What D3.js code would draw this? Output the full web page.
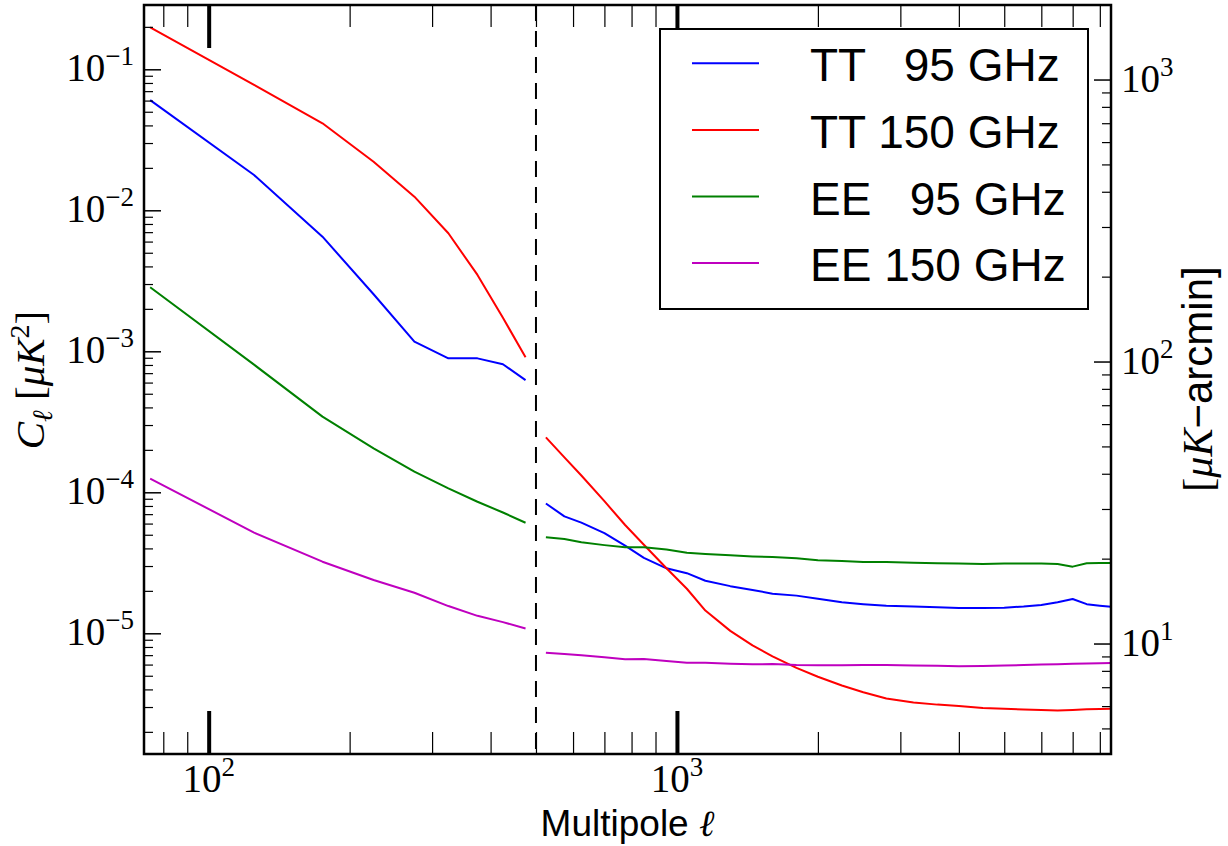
<!DOCTYPE html>
<html><head><meta charset="utf-8">
<script src="https://cdn.jsdelivr.net/npm/d3@7"></script>
<style>body{margin:0;background:#fff;} svg{display:block}</style>
</head><body>
<svg id="chart" width="1228" height="846"></svg>
<script>
// ---- data ----
const ellLow = [75,125,175,225,275,325,375,425,475];
const ellHigh = [525,575,625,700,775,850,950,1050,1150,1300,1450,1600,1800,2000,2250,2500,2800,3200,3600,4000,4500,5000,5500,6000,6500,7000,7500,8000,8500];

const tt95Low  = [0.0605,0.01778,0.0065,0.00254,0.00117,0.000891,0.000891,0.000809,0.000625];
const tt150Low = [0.1987,0.0776,0.0414,0.0221,0.01249,0.00687,0.00348,0.00173,0.000906];
const ee95Low  = [2.844e-3,8.04e-4,3.44e-4,2.05e-4,1.40e-4,1.067e-4,8.57e-5,7.19e-5,6.08e-5];
const ee150Low = [1.25e-4,5.18e-5,3.22e-5,2.39e-5,1.94e-5,1.56e-5,1.33e-5,1.20e-5,1.08e-5];

const tt95High  = [8.33e-5,6.75e-5,6.09e-5,5.14e-5,4.18e-5,3.43e-5,2.89e-5,2.67e-5,2.36e-5,2.16e-5,2.03e-5,1.91e-5,1.85e-5,1.76e-5,1.66e-5,1.61e-5,1.57e-5,1.55e-5,1.53e-5,1.51e-5,1.51e-5,1.52e-5,1.55e-5,1.59e-5,1.66e-5,1.75e-5,1.61e-5,1.57e-5,1.54e-5];
const tt150High = [2.455e-4,1.768e-4,1.315e-4,8.65e-5,5.86e-5,4.25e-5,2.89e-5,2.07e-5,1.45e-5,1.04e-5,8.20e-6,6.87e-6,5.68e-6,4.92e-6,4.26e-6,3.82e-6,3.45e-6,3.23e-6,3.12e-6,3.05e-6,2.95e-6,2.92e-6,2.88e-6,2.86e-6,2.84e-6,2.86e-6,2.89e-6,2.90e-6,2.92e-6];
const ee95High  = [4.80e-5,4.67e-5,4.42e-5,4.22e-5,4.07e-5,4.07e-5,3.93e-5,3.73e-5,3.65e-5,3.57e-5,3.51e-5,3.47e-5,3.41e-5,3.30e-5,3.26e-5,3.21e-5,3.20e-5,3.17e-5,3.14e-5,3.12e-5,3.10e-5,3.12e-5,3.13e-5,3.12e-5,3.10e-5,2.97e-5,3.14e-5,3.15e-5,3.15e-5];
const ee150High = [7.29e-6,7.13e-6,7.00e-6,6.75e-6,6.54e-6,6.56e-6,6.37e-6,6.19e-6,6.17e-6,6.09e-6,6.03e-6,6.05e-6,5.96e-6,5.94e-6,5.94e-6,5.95e-6,5.96e-6,5.92e-6,5.88e-6,5.84e-6,5.86e-6,5.91e-6,5.96e-6,6.00e-6,6.03e-6,6.07e-6,6.10e-6,6.13e-6,6.16e-6];

const seriesNames = ["TT   95 GHz","TT 150 GHz","EE   95 GHz","EE 150 GHz"];
const seriesColors = ["#0000ff","#ff0000","#008000","#bf00bf"];
const lowSets = [tt95Low, tt150Low, ee95Low, ee150Low];
const highSets = [tt95High, tt150High, ee95High, ee150High];

const xDomain = [72.76, 8452];
const yDomain = [1.393e-6, 0.2858];
const ellSplit = 500;

const xMajor = [100, 1000];
const xMinor = [80,90,200,300,400,500,600,700,800,900,2000,3000,4000,5000,6000,7000,8000];
const yMajor = [1e-5,1e-4,1e-3,1e-2,1e-1];
const yMajorExp = ["−5","−4","−3","−2","−1"];
const yMinor = [];
[1e-6,1e-5,1e-4,1e-3,1e-2,1e-1].forEach(d=>{for(let k=2;k<=9;k++){const v=k*d; if(v>=yDomain[0]&&v<=yDomain[1]) yMinor.push(v);}});
const rMajor = [10,100,1000];
const rMajorExp = ["1","2","3"];
const rMinor = [];
[1,10,100,1000].forEach(d=>{for(let k=2;k<=9;k++) rMinor.push(k*d);});

// ---- layout ----
const m = {l:144, t:5, r:1111, b:754};
const svg = d3.select("#chart");
const x = d3.scaleLog().domain(xDomain).range([m.l, m.r]);
const y = d3.scaleLog().domain(yDomain).range([m.b, m.t]);
const arcK = 10800/Math.PI;
const yR = d3.scaleLog().domain(yDomain.map(v=>Math.sqrt(v)*arcK)).range([m.b, m.t]);
const rMinorIn = rMinor.filter(v=>v>=yR.domain()[0] && v<=yR.domain()[1]);

svg.append("defs").append("clipPath").attr("id","clip")
  .append("rect").attr("x",m.l).attr("y",m.t).attr("width",m.r-m.l).attr("height",m.b-m.t);

const plot = svg.append("g").attr("clip-path","url(#clip)");
const line = d3.line().x(d=>x(d[0])).y(d=>y(d[1]));
seriesNames.forEach((n,i)=>{
  [[ellLow, lowSets[i]],[ellHigh, highSets[i]]].forEach(([e,v])=>{
    plot.append("path").datum(d3.zip(e,v)).attr("d",line)
      .attr("fill","none").attr("stroke",seriesColors[i]).attr("stroke-width",2)
      .attr("stroke-linejoin","round");
  });
});
// dashed divider
plot.append("line").attr("x1",x(ellSplit)).attr("x2",x(ellSplit)).attr("y1",m.t).attr("y2",m.b)
  .attr("stroke","#000").attr("stroke-width",2).attr("stroke-dasharray","16,10");

// ---- ticks ----
function styleAxis(g, w){ g.select(".domain").remove(); g.selectAll(".tick line").attr("stroke","#000").attr("stroke-width",w); g.selectAll(".tick text").remove(); }
svg.append("g").attr("transform",`translate(0,${m.b})`).call(d3.axisBottom(x).tickValues(xMinor).tickSize(-22).tickFormat("")).call(g=>styleAxis(g,1.2));
svg.append("g").attr("transform",`translate(0,${m.b})`).call(d3.axisBottom(x).tickValues(xMajor).tickSize(-43).tickFormat("")).call(g=>styleAxis(g,4));
svg.append("g").attr("transform",`translate(0,${m.t})`).call(d3.axisTop(x).tickValues(xMinor).tickSize(-22).tickFormat("")).call(g=>styleAxis(g,1.2));
svg.append("g").attr("transform",`translate(0,${m.t})`).call(d3.axisTop(x).tickValues(xMajor).tickSize(-43).tickFormat("")).call(g=>styleAxis(g,4));
svg.append("g").attr("transform",`translate(${m.l},0)`).call(d3.axisLeft(y).tickValues(yMinor).tickSize(-9).tickFormat("")).call(g=>styleAxis(g,1.2));
svg.append("g").attr("transform",`translate(${m.l},0)`).call(d3.axisLeft(y).tickValues(yMajor).tickSize(-17).tickFormat("")).call(g=>styleAxis(g,1.5));
svg.append("g").attr("transform",`translate(${m.r},0)`).call(d3.axisRight(yR).tickValues(rMinorIn).tickSize(-9).tickFormat("")).call(g=>styleAxis(g,1.2));
svg.append("g").attr("transform",`translate(${m.r},0)`).call(d3.axisRight(yR).tickValues(rMajor).tickSize(-17).tickFormat("")).call(g=>styleAxis(g,1.5));

// ---- tick labels ----
const serif = "'Liberation Serif','DejaVu Serif',serif";
const sans = "'Liberation Sans',Arial,Helvetica,sans-serif";
function powLabel(sel, base, exp){
  sel.append("tspan").text(base);
  sel.append("tspan").attr("dy",-16).attr("font-size",27).text(exp);
}
yMajor.forEach((v,i)=>{
  const t = svg.append("text").attr("x",m.l-10).attr("y",y(v)+12).attr("text-anchor","end")
    .attr("font-family",serif).attr("font-size",39);
  powLabel(t,"10",yMajorExp[i]);
});
xMajor.forEach((v,i)=>{
  const t = svg.append("text").attr("x",x(v)).attr("y",792).attr("text-anchor","middle")
    .attr("font-family",serif).attr("font-size",39);
  powLabel(t,"10",String(Math.round(Math.log10(v))));
});
rMajor.forEach((v,i)=>{
  const t = svg.append("text").attr("x",m.r+10).attr("y",yR(v)+12).attr("text-anchor","start")
    .attr("font-family",serif).attr("font-size",39);
  powLabel(t,"10",rMajorExp[i]);
});

// ---- axis labels ----
const xl = svg.append("text").attr("x",(m.l+m.r)/2).attr("y",836).attr("text-anchor","middle")
  .attr("font-family",sans).attr("font-size",37);
xl.append("tspan").text("Multipole ");
xl.append("tspan").attr("font-family",serif).attr("font-style","italic").text("ℓ");

const yl = svg.append("text").attr("transform","translate(44,380) rotate(-90)").attr("text-anchor","middle")
  .attr("font-family",serif).attr("font-size",41);
yl.append("tspan").attr("font-style","italic").text("C");
yl.append("tspan").attr("font-style","italic").attr("font-size",28).attr("dy",8).text("ℓ");
yl.append("tspan").attr("dy",-8).text(" [");
yl.append("tspan").attr("font-style","italic").text("μK");
yl.append("tspan").attr("font-size",28).attr("dy",-15).text("2");
yl.append("tspan").attr("dy",15).text("]");

const yr = svg.append("text").attr("transform","translate(1212,379) rotate(-90)").attr("text-anchor","middle")
  .attr("font-family",serif).attr("font-size",42);
yr.append("tspan").text("[");
yr.append("tspan").attr("font-style","italic").text("μK");
yr.append("tspan").attr("font-family",sans).text("−arcmin]");

// ---- legend ----
const lg = svg.append("g");
lg.append("rect").attr("x",660).attr("y",29).attr("width",428).attr("height",280)
  .attr("fill","#fff").attr("stroke","#000").attr("stroke-width",2);
seriesNames.forEach((n,i)=>{
  const ly = 63.3 + i*66.6;
  lg.append("line").attr("x1",692).attr("x2",759).attr("y1",ly).attr("y2",ly)
    .attr("stroke",seriesColors[i]).attr("stroke-width",2);
  lg.append("text").attr("x",810).attr("y",ly+18).attr("font-family",sans).attr("font-size",46)
    .attr("xml:space","preserve").style("white-space","pre").text(n);
});

// ---- frame ----
svg.append("rect").attr("x",m.l).attr("y",m.t).attr("width",m.r-m.l).attr("height",m.b-m.t)
  .attr("fill","none").attr("stroke","#000").attr("stroke-width",2.5);
</script>
</body></html>
